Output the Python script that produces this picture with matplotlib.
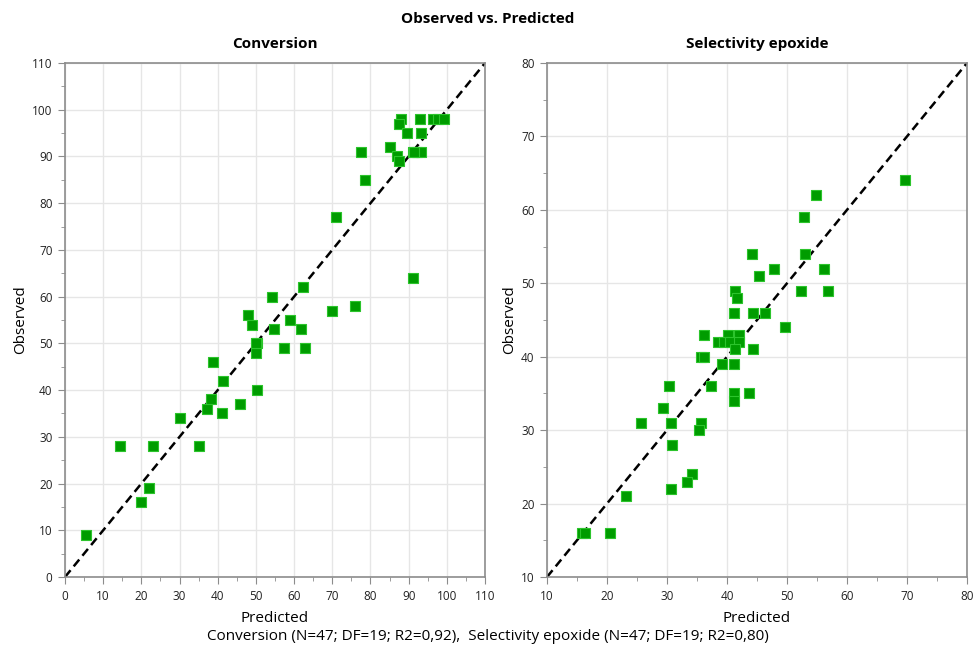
import matplotlib
matplotlib.use("Agg")
import matplotlib.pyplot as plt
from matplotlib.ticker import MultipleLocator

plt.rcParams['font.family'] = ['Open Sans', 'DejaVu Sans']

# Conversion: predicted / observed
conv_pred = [5.5, 14.4, 23.1, 35.2, 19.9, 22.0, 30.1, 37.1, 38.2, 41.0, 41.3, 38.8,
             45.8, 50.3, 50.3, 50.1, 47.8, 48.9, 54.2, 54.8, 58.9, 61.7, 57.3, 62.9,
             62.3, 69.9, 76.0, 91.2, 71.0, 77.5, 78.6, 85.0, 87.0, 87.4, 88.1, 87.6,
             89.6, 92.9, 93.2, 91.1, 92.1, 93.2, 96.3, 97.8, 99.3, 50.0, 91.5]
conv_obs = [9, 28, 28, 28, 16, 19, 34, 36, 38, 35, 42, 46,
            37, 40, 50, 48, 56, 54, 60, 53, 55, 53, 49, 49,
            62, 57, 58, 64, 77, 91, 85, 92, 90, 89, 98, 97,
            95, 98, 95, 91, 91, 91, 98, 98, 98, 50, 91]

# Selectivity epoxide: predicted / observed
sel_pred = [69.6, 54.9, 52.8, 44.1, 53.0, 47.9, 56.1, 45.3, 41.3, 41.6, 52.3, 56.9,
            41.1, 44.3, 46.4, 49.6, 36.2, 40.1, 42.0, 38.5, 39.5, 40.5, 42.0, 41.4,
            44.4, 35.7, 36.1, 39.1, 41.1, 30.4, 37.3, 41.1, 41.1, 43.7, 29.3, 25.6,
            30.7, 35.6, 35.4, 30.9, 34.1, 33.4, 30.6, 23.1, 15.8, 16.3, 20.5]
sel_obs = [64, 62, 59, 54, 54, 52, 52, 51, 49, 48, 49, 49,
           46, 46, 46, 44, 43, 43, 43, 42, 42, 42, 42, 41,
           41, 40, 40, 39, 39, 36, 36, 35, 34, 35, 33, 31,
           31, 31, 30, 28, 24, 23, 22, 21, 16, 16, 16]

panels = [
    ("Conversion", conv_pred, conv_obs, (0, 110), [0, 10, 20, 30, 40, 50, 60, 70, 80, 90, 100, 110]),
    ("Selectivity epoxide", sel_pred, sel_obs, (10, 80), [10, 20, 30, 40, 50, 60, 70, 80]),
]

fig = plt.figure(figsize=(9.76, 6.49), dpi=100)
positions = [[65/976, 1-577/649, 420/976, 514/649],
             [547/976, 1-577/649, 420/976, 514/649]]

grid_c = '#e6e6e6'
spine_c = '#8c8c8c'

for (title, xp, yo, lim, ticks), pos in zip(panels, positions):
    ax = fig.add_axes(pos)
    ax.set_xlim(*lim)
    ax.set_ylim(*lim)
    ax.set_xticks(ticks)
    ax.set_yticks(ticks)
    ax.xaxis.set_minor_locator(MultipleLocator(5))
    ax.yaxis.set_minor_locator(MultipleLocator(5))
    ax.grid(True, which='major', color=grid_c, lw=1)
    ax.set_axisbelow(True)
    for s in ax.spines.values():
        s.set_color(spine_c)
        s.set_linewidth(1.2)
    ax.tick_params(which='major', length=5, color=spine_c, labelsize=8.5, labelcolor='#222222', pad=4)
    ax.tick_params(which='minor', length=3, color=spine_c)
    ax.plot(lim, lim, color='black', ls=(0, (3.5, 2)), lw=1.8, zorder=2)
    ax.scatter(xp, yo, marker='s', s=58, facecolor='#009c00', edgecolor='#2cc42c',
               linewidths=0.8, zorder=3)
    ax.set_title(title, fontsize=11, fontweight='bold', pad=11)
    ax.set_xlabel("Predicted", fontsize=11, labelpad=6)
    ax.set_ylabel("Observed", fontsize=11, labelpad=3)

fig.text(0.5, 1-19/649, "Observed vs. Predicted", ha='center', va='center',
         fontsize=11, fontweight='bold')
fig.text(0.5, 1-637/649,
         "Conversion (N=47; DF=19; R2=0,92),  Selectivity epoxide (N=47; DF=19; R2=0,80)",
         ha='center', va='center', fontsize=11)

fig.savefig("out.png", dpi=100)
